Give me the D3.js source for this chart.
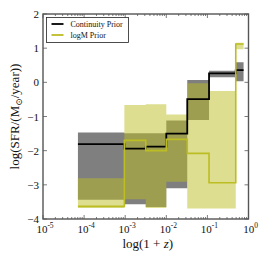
<!DOCTYPE html>
<html>
<head>
<meta charset="utf-8">
<script src="https://cdn.jsdelivr.net/npm/d3@7"></script>
<style>
  body { margin: 0; background: #fff; }
  text { font-family: "Liberation Serif", "DejaVu Serif", serif; fill: #111; }
</style>
</head>
<body>
<svg id="chart" width="266" height="266"></svg>
<script>
// bin edges, as log10(log(1+z))
const binEdgesLog = [-4.15, -3.02, -2.5, -2.0, -1.49, -0.96, -0.31, -0.12];

// Continuity prior: median and 16/84 band
const contMed = [-1.81, -1.94, -1.88, -1.50, -0.49, 0.26, 0.36];
const contLo  = [-3.44, -3.57, -3.65, -3.10, -1.10, 0.15, 0.03];
const contHi  = [-1.47, -1.49, -1.49, -1.12, 0.07, 0.34, 0.59];

// logM prior
const logmMed = [-3.63, -1.70, -2.00, -1.67, -2.08, -2.94, 1.12];
const logmLo  = [-3.68, -3.42, -3.68, -2.91, -3.69, -3.69, 0.97];
const logmHi  = [-2.81, -0.66, -0.64, -0.94, -0.03, -0.25, 1.16];

const xTickExps = [-5, -4, -3, -2, -1, 0];
const yTicks = [-4, -3, -2, -1, 0, 1, 2];
const legendNames = ["Continuity Prior", "logM Prior"];

const CONT_COLOR = "#000";
const LOGM_COLOR = "#bcbd22";

const svg = d3.select("#chart");
const margin = { top: 14, right: 17.5, bottom: 47, left: 43 };
const W = 266, H = 266;

const x = d3.scaleLog().domain([1e-5, 1]).range([margin.left, W - margin.right]);
const y = d3.scaleLinear().domain([-4, 2]).range([H - margin.bottom, margin.top]);

const steps = (med, lo, hi) => {
    const pts = med.map((m, i) => ({ x: Math.pow(10, binEdgesLog[i]), m, lo: lo[i], hi: hi[i] }));
    const last = pts[pts.length - 1];
    pts.push({ ...last, x: Math.pow(10, binEdgesLog[binEdgesLog.length - 1]) });
    return pts;
};

const area = d3.area()
    .curve(d3.curveStepAfter)
    .x(d => x(d.x))
    .y0(d => y(d.lo))
    .y1(d => y(d.hi));

const line = d3.line()
    .curve(d3.curveStepAfter)
    .x(d => x(d.x))
    .y(d => y(d.m));

const cont = steps(contMed, contLo, contHi);
const logm = steps(logmMed, logmLo, logmHi);

const plot = svg.append("g");
plot.append("path").attr("d", area(cont)).attr("fill", CONT_COLOR).attr("fill-opacity", 0.5);
plot.append("path").attr("d", area(logm)).attr("fill", LOGM_COLOR).attr("fill-opacity", 0.5);
plot.append("path").attr("d", line(cont)).attr("fill", "none")
    .attr("stroke", CONT_COLOR).attr("stroke-width", 1.8);
plot.append("path").attr("d", line(logm)).attr("fill", "none")
    .attr("stroke", LOGM_COLOR).attr("stroke-width", 1.6);

// axes, ticks pointing inward on all sides
const x0 = margin.left, x1 = W - margin.right, y0 = H - margin.bottom, y1 = margin.top;
const tickG = svg.append("g").attr("stroke", "#444").attr("stroke-width", 0.7);

const minor = [];
xTickExps.slice(0, -1).forEach(e => {
    for (let k = 2; k <= 9; k++) minor.push(k * Math.pow(10, e));
});
minor.forEach(v => {
    tickG.append("line").attr("x1", x(v)).attr("x2", x(v)).attr("y1", y0).attr("y2", y0 - 2);
    tickG.append("line").attr("x1", x(v)).attr("x2", x(v)).attr("y1", y1).attr("y2", y1 + 2);
});
xTickExps.forEach(e => {
    const v = Math.pow(10, e);
    tickG.append("line").attr("x1", x(v)).attr("x2", x(v)).attr("y1", y0).attr("y2", y0 - 4);
    tickG.append("line").attr("x1", x(v)).attr("x2", x(v)).attr("y1", y1).attr("y2", y1 + 4);
});
yTicks.forEach(t => {
    tickG.append("line").attr("x1", x0).attr("x2", x0 + 4).attr("y1", y(t)).attr("y2", y(t));
    tickG.append("line").attr("x1", x1).attr("x2", x1 - 4).attr("y1", y(t)).attr("y2", y(t));
});

svg.append("rect")
    .attr("x", x0).attr("y", y1)
    .attr("width", x1 - x0).attr("height", y0 - y1)
    .attr("fill", "none").attr("stroke", "#555").attr("stroke-width", 1.4);

// tick labels
xTickExps.forEach(e => {
    const t = svg.append("text")
        .attr("x", x(Math.pow(10, e)) + 2)
        .attr("y", y0 + 14)
        .attr("text-anchor", "middle")
        .style("font-size", "11px");
    t.append("tspan").text("10");
    t.append("tspan").attr("dy", -5).style("font-size", "7.5px")
        .text(e === 0 ? "0" : "-" + Math.abs(e));
});

yTicks.forEach(t => {
    svg.append("text")
        .attr("x", x0 - 4)
        .attr("y", y(t) + 4)
        .attr("text-anchor", "end")
        .style("font-size", "11px")
        .text(t < 0 ? "\u2212" + Math.abs(t) : String(t));
});

// axis labels
const xl = svg.append("text")
    .attr("x", (x0 + x1) / 2 + 2)
    .attr("y", 248)
    .attr("text-anchor", "middle")
    .style("font-size", "13px");
xl.append("tspan").text("log(1 + ");
xl.append("tspan").style("font-style", "italic").text("z");
xl.append("tspan").text(")");

const yl = svg.append("text")
    .attr("transform", `translate(19, ${(y0 + y1) / 2}) rotate(-90)`)
    .attr("text-anchor", "middle")
    .style("font-size", "13px");
yl.append("tspan").text("log(SFR/(M");
yl.append("tspan").attr("dy", 3).style("font-size", "9px").text("\u2299");
yl.append("tspan").attr("dy", -3).text("/year))");

// legend
const leg = svg.append("g").attr("transform", "translate(46.5, 17.5)");
leg.append("rect").attr("width", 82).attr("height", 25)
    .attr("fill", "#fff").attr("stroke", "#222").attr("stroke-width", 0.8);
[CONT_COLOR, LOGM_COLOR].forEach((c, i) => {
    const yy = 6.5 + i * 11;
    leg.append("line").attr("x1", 5).attr("x2", 17).attr("y1", yy).attr("y2", yy)
        .attr("stroke", c).attr("stroke-width", 1.8);
    leg.append("text").attr("x", 24).attr("y", yy + 2.7)
        .style("font-size", "8px").text(legendNames[i]);
});
</script>
</body>
</html>
